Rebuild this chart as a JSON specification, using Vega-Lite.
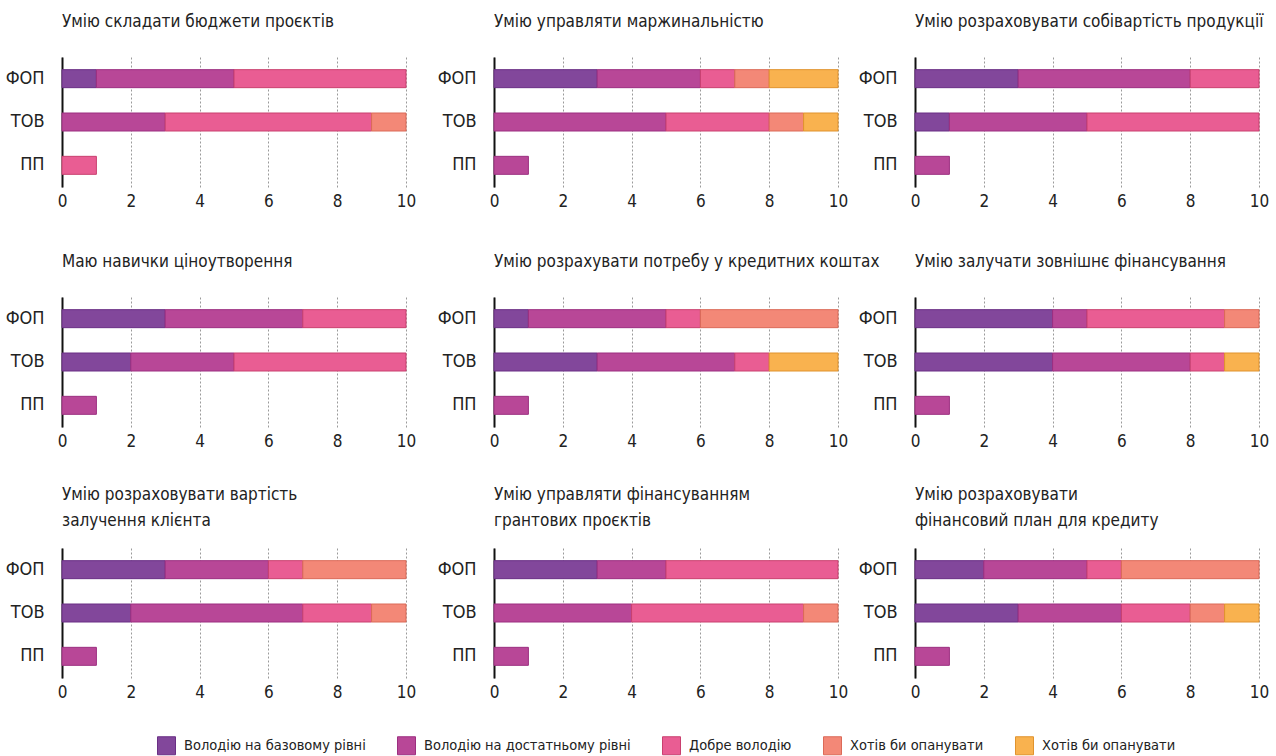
{
  "$schema": "https://vega.github.io/schema/vega-lite/v6.json",
  "padding": {"left": 4, "top": 13, "right": 0, "bottom": 0},
  "background": "white",
  "data": {"values": [
    {"p":1,"o":"ФОП","c":"Володію на базовому рівні","k":1,"v":1},
    {"p":1,"o":"ФОП","c":"Володію на достатньому рівні","k":2,"v":4},
    {"p":1,"o":"ФОП","c":"Добре володію","k":3,"v":5},
    {"p":1,"o":"ТОВ","c":"Володію на достатньому рівні","k":2,"v":3},
    {"p":1,"o":"ТОВ","c":"Добре володію","k":3,"v":6},
    {"p":1,"o":"ТОВ","c":"Хотів би опанувати","k":4,"v":1},
    {"p":1,"o":"ПП","c":"Добре володію","k":3,"v":1},

    {"p":2,"o":"ФОП","c":"Володію на базовому рівні","k":1,"v":3},
    {"p":2,"o":"ФОП","c":"Володію на достатньому рівні","k":2,"v":3},
    {"p":2,"o":"ФОП","c":"Добре володію","k":3,"v":1},
    {"p":2,"o":"ФОП","c":"Хотів би опанувати","k":4,"v":1},
    {"p":2,"o":"ФОП","c":"Хотів би опанувати ","k":5,"v":2},
    {"p":2,"o":"ТОВ","c":"Володію на достатньому рівні","k":2,"v":5},
    {"p":2,"o":"ТОВ","c":"Добре володію","k":3,"v":3},
    {"p":2,"o":"ТОВ","c":"Хотів би опанувати","k":4,"v":1},
    {"p":2,"o":"ТОВ","c":"Хотів би опанувати ","k":5,"v":1},
    {"p":2,"o":"ПП","c":"Володію на достатньому рівні","k":2,"v":1},

    {"p":3,"o":"ФОП","c":"Володію на базовому рівні","k":1,"v":3},
    {"p":3,"o":"ФОП","c":"Володію на достатньому рівні","k":2,"v":5},
    {"p":3,"o":"ФОП","c":"Добре володію","k":3,"v":2},
    {"p":3,"o":"ТОВ","c":"Володію на базовому рівні","k":1,"v":1},
    {"p":3,"o":"ТОВ","c":"Володію на достатньому рівні","k":2,"v":4},
    {"p":3,"o":"ТОВ","c":"Добре володію","k":3,"v":5},
    {"p":3,"o":"ПП","c":"Володію на достатньому рівні","k":2,"v":1},

    {"p":4,"o":"ФОП","c":"Володію на базовому рівні","k":1,"v":3},
    {"p":4,"o":"ФОП","c":"Володію на достатньому рівні","k":2,"v":4},
    {"p":4,"o":"ФОП","c":"Добре володію","k":3,"v":3},
    {"p":4,"o":"ТОВ","c":"Володію на базовому рівні","k":1,"v":2},
    {"p":4,"o":"ТОВ","c":"Володію на достатньому рівні","k":2,"v":3},
    {"p":4,"o":"ТОВ","c":"Добре володію","k":3,"v":5},
    {"p":4,"o":"ПП","c":"Володію на достатньому рівні","k":2,"v":1},

    {"p":5,"o":"ФОП","c":"Володію на базовому рівні","k":1,"v":1},
    {"p":5,"o":"ФОП","c":"Володію на достатньому рівні","k":2,"v":4},
    {"p":5,"o":"ФОП","c":"Добре володію","k":3,"v":1},
    {"p":5,"o":"ФОП","c":"Хотів би опанувати","k":4,"v":4},
    {"p":5,"o":"ТОВ","c":"Володію на базовому рівні","k":1,"v":3},
    {"p":5,"o":"ТОВ","c":"Володію на достатньому рівні","k":2,"v":4},
    {"p":5,"o":"ТОВ","c":"Добре володію","k":3,"v":1},
    {"p":5,"o":"ТОВ","c":"Хотів би опанувати ","k":5,"v":2},
    {"p":5,"o":"ПП","c":"Володію на достатньому рівні","k":2,"v":1},

    {"p":6,"o":"ФОП","c":"Володію на базовому рівні","k":1,"v":4},
    {"p":6,"o":"ФОП","c":"Володію на достатньому рівні","k":2,"v":1},
    {"p":6,"o":"ФОП","c":"Добре володію","k":3,"v":4},
    {"p":6,"o":"ФОП","c":"Хотів би опанувати","k":4,"v":1},
    {"p":6,"o":"ТОВ","c":"Володію на базовому рівні","k":1,"v":4},
    {"p":6,"o":"ТОВ","c":"Володію на достатньому рівні","k":2,"v":4},
    {"p":6,"o":"ТОВ","c":"Добре володію","k":3,"v":1},
    {"p":6,"o":"ТОВ","c":"Хотів би опанувати ","k":5,"v":1},
    {"p":6,"o":"ПП","c":"Володію на достатньому рівні","k":2,"v":1},

    {"p":7,"o":"ФОП","c":"Володію на базовому рівні","k":1,"v":3},
    {"p":7,"o":"ФОП","c":"Володію на достатньому рівні","k":2,"v":3},
    {"p":7,"o":"ФОП","c":"Добре володію","k":3,"v":1},
    {"p":7,"o":"ФОП","c":"Хотів би опанувати","k":4,"v":3},
    {"p":7,"o":"ТОВ","c":"Володію на базовому рівні","k":1,"v":2},
    {"p":7,"o":"ТОВ","c":"Володію на достатньому рівні","k":2,"v":5},
    {"p":7,"o":"ТОВ","c":"Добре володію","k":3,"v":2},
    {"p":7,"o":"ТОВ","c":"Хотів би опанувати","k":4,"v":1},
    {"p":7,"o":"ПП","c":"Володію на достатньому рівні","k":2,"v":1},

    {"p":8,"o":"ФОП","c":"Володію на базовому рівні","k":1,"v":3},
    {"p":8,"o":"ФОП","c":"Володію на достатньому рівні","k":2,"v":2},
    {"p":8,"o":"ФОП","c":"Добре володію","k":3,"v":5},
    {"p":8,"o":"ТОВ","c":"Володію на достатньому рівні","k":2,"v":4},
    {"p":8,"o":"ТОВ","c":"Добре володію","k":3,"v":5},
    {"p":8,"o":"ТОВ","c":"Хотів би опанувати","k":4,"v":1},
    {"p":8,"o":"ПП","c":"Володію на достатньому рівні","k":2,"v":1},

    {"p":9,"o":"ФОП","c":"Володію на базовому рівні","k":1,"v":2},
    {"p":9,"o":"ФОП","c":"Володію на достатньому рівні","k":2,"v":3},
    {"p":9,"o":"ФОП","c":"Добре володію","k":3,"v":1},
    {"p":9,"o":"ФОП","c":"Хотів би опанувати","k":4,"v":4},
    {"p":9,"o":"ТОВ","c":"Володію на базовому рівні","k":1,"v":3},
    {"p":9,"o":"ТОВ","c":"Володію на достатньому рівні","k":2,"v":3},
    {"p":9,"o":"ТОВ","c":"Добре володію","k":3,"v":2},
    {"p":9,"o":"ТОВ","c":"Хотів би опанувати","k":4,"v":1},
    {"p":9,"o":"ТОВ","c":"Хотів би опанувати ","k":5,"v":1},
    {"p":9,"o":"ПП","c":"Володію на достатньому рівні","k":2,"v":1}
  ]},
  "config": {
    "font": "DejaVu Sans Condensed, sans-serif",
    "view": {"stroke": null},
    "title": {"anchor": "start", "frame": "group", "fontSize": 17, "fontWeight": "normal", "color": "#222222", "offset": 26, "lineHeight": 26},
    "axisX": {"grid": true, "gridDash": [2, 2], "gridColor": "#9a9a9a", "gridWidth": 1, "domain": false, "ticks": false, "labelFontSize": 17, "labelPadding": 6, "labelFlush": false, "labelColor": "#222222", "title": null},
    "axisY": {"grid": false, "domain": true, "domainColor": "#111111", "domainWidth": 2, "ticks": false, "labelFontSize": 18, "labelPadding": 18, "labelColor": "#222222", "title": null},
    "legend": {"orient": "none", "legendX": 95, "legendY": 679, "direction": "horizontal", "title": null, "symbolType": "square", "symbolSize": 324, "labelFontSize": 14.5, "labelOffset": 8, "columnPadding": 29, "labelColor": "#222222", "symbolStrokeWidth": 1, "labelLimit": 400},
    "bar": {"size": 18, "strokeWidth": 1}
  },
  "hconcat": [
    {"spacing": 37, "vconcat": [
      {"width": 344, "height": 130, "title": "Умію складати бюджети проєктів", "transform": [{"filter": "datum.p == 1"}], "mark": {"type": "bar"},
       "encoding": {
        "y": {"field": "o", "type": "nominal", "scale": {"domain": ["ФОП","ТОВ","ПП"], "paddingInner": 0, "paddingOuter": 0}, "axis": {"minExtent": 58}},
        "x": {"field": "v", "type": "quantitative", "stack": "zero", "scale": {"domain": [0, 10], "nice": false}, "axis": {"values": [0,2,4,6,8,10], "minExtent": 29}},
        "color": {"field": "c", "type": "nominal", "scale": {"domain": ["Володію на базовому рівні","Володію на достатньому рівні","Добре володію","Хотів би опанувати","Хотів би опанувати "], "range": ["#82479b","#b84797","#e95d93","#f38877","#f9b24f"]}},
        "stroke": {"field": "c", "type": "nominal", "scale": {"domain": ["Володію на базовому рівні","Володію на достатньому рівні","Добре володію","Хотів би опанувати","Хотів би опанувати "], "range": ["#6a2f85","#9c2f80","#c9406f","#db6a58","#e0932e"]}},
        "order": {"field": "k", "type": "quantitative"}
       }},
      {"width": 344, "height": 130, "title": "Маю навички ціноутворення", "transform": [{"filter": "datum.p == 4"}], "mark": {"type": "bar"},
       "encoding": {
        "y": {"field": "o", "type": "nominal", "scale": {"domain": ["ФОП","ТОВ","ПП"], "paddingInner": 0, "paddingOuter": 0}, "axis": {"minExtent": 58}},
        "x": {"field": "v", "type": "quantitative", "stack": "zero", "scale": {"domain": [0, 10], "nice": false}, "axis": {"values": [0,2,4,6,8,10]}},
        "color": {"field": "c", "type": "nominal"},
        "stroke": {"field": "c", "type": "nominal"},
        "order": {"field": "k", "type": "quantitative"}
       }},
      {"width": 344, "height": 130, "title": {"text": ["Умію розраховувати вартість", "залучення клієнта"], "offset": 18}, "transform": [{"filter": "datum.p == 7"}], "mark": {"type": "bar"},
       "encoding": {
        "y": {"field": "o", "type": "nominal", "scale": {"domain": ["ФОП","ТОВ","ПП"], "paddingInner": 0, "paddingOuter": 0}, "axis": {"minExtent": 58}},
        "x": {"field": "v", "type": "quantitative", "stack": "zero", "scale": {"domain": [0, 10], "nice": false}, "axis": {"values": [0,2,4,6,8,10]}},
        "color": {"field": "c", "type": "nominal"},
        "stroke": {"field": "c", "type": "nominal"},
        "order": {"field": "k", "type": "quantitative"}
       }}
    ]},
    {"spacing": 37, "vconcat": [
      {"width": 344, "height": 130, "title": "Умію управляти  маржинальністю", "transform": [{"filter": "datum.p == 2"}], "mark": {"type": "bar"},
       "encoding": {
        "y": {"field": "o", "type": "nominal", "scale": {"domain": ["ФОП","ТОВ","ПП"], "paddingInner": 0, "paddingOuter": 0}, "axis": {"minExtent": 101}},
        "x": {"field": "v", "type": "quantitative", "stack": "zero", "scale": {"domain": [0, 10], "nice": false}, "axis": {"values": [0,2,4,6,8,10], "minExtent": 29}},
        "color": {"field": "c", "type": "nominal"},
        "stroke": {"field": "c", "type": "nominal"},
        "order": {"field": "k", "type": "quantitative"}
       }},
      {"width": 344, "height": 130, "title": "Умію розрахувати потребу у кредитних коштах", "transform": [{"filter": "datum.p == 5"}], "mark": {"type": "bar"},
       "encoding": {
        "y": {"field": "o", "type": "nominal", "scale": {"domain": ["ФОП","ТОВ","ПП"], "paddingInner": 0, "paddingOuter": 0}, "axis": {"minExtent": 101}},
        "x": {"field": "v", "type": "quantitative", "stack": "zero", "scale": {"domain": [0, 10], "nice": false}, "axis": {"values": [0,2,4,6,8,10]}},
        "color": {"field": "c", "type": "nominal"},
        "stroke": {"field": "c", "type": "nominal"},
        "order": {"field": "k", "type": "quantitative"}
       }},
      {"width": 344, "height": 130, "title": {"text": ["Умію управляти фінансуванням", "грантових проєктів"], "offset": 18}, "transform": [{"filter": "datum.p == 8"}], "mark": {"type": "bar"},
       "encoding": {
        "y": {"field": "o", "type": "nominal", "scale": {"domain": ["ФОП","ТОВ","ПП"], "paddingInner": 0, "paddingOuter": 0}, "axis": {"minExtent": 101}},
        "x": {"field": "v", "type": "quantitative", "stack": "zero", "scale": {"domain": [0, 10], "nice": false}, "axis": {"values": [0,2,4,6,8,10]}},
        "color": {"field": "c", "type": "nominal"},
        "stroke": {"field": "c", "type": "nominal"},
        "order": {"field": "k", "type": "quantitative"}
       }}
    ]},
    {"spacing": 37, "vconcat": [
      {"width": 344, "height": 130, "title": "Умію розраховувати собівартість продукції", "transform": [{"filter": "datum.p == 3"}], "mark": {"type": "bar"},
       "encoding": {
        "y": {"field": "o", "type": "nominal", "scale": {"domain": ["ФОП","ТОВ","ПП"], "paddingInner": 0, "paddingOuter": 0}, "axis": {"minExtent": 58}},
        "x": {"field": "v", "type": "quantitative", "stack": "zero", "scale": {"domain": [0, 10], "nice": false}, "axis": {"values": [0,2,4,6,8,10], "minExtent": 29}},
        "color": {"field": "c", "type": "nominal"},
        "stroke": {"field": "c", "type": "nominal"},
        "order": {"field": "k", "type": "quantitative"}
       }},
      {"width": 344, "height": 130, "title": "Умію залучати зовнішнє фінансування", "transform": [{"filter": "datum.p == 6"}], "mark": {"type": "bar"},
       "encoding": {
        "y": {"field": "o", "type": "nominal", "scale": {"domain": ["ФОП","ТОВ","ПП"], "paddingInner": 0, "paddingOuter": 0}, "axis": {"minExtent": 58}},
        "x": {"field": "v", "type": "quantitative", "stack": "zero", "scale": {"domain": [0, 10], "nice": false}, "axis": {"values": [0,2,4,6,8,10]}},
        "color": {"field": "c", "type": "nominal"},
        "stroke": {"field": "c", "type": "nominal"},
        "order": {"field": "k", "type": "quantitative"}
       }},
      {"width": 344, "height": 130, "title": {"text": ["Умію розраховувати", "фінансовий план для кредиту"], "offset": 18}, "transform": [{"filter": "datum.p == 9"}], "mark": {"type": "bar"},
       "encoding": {
        "y": {"field": "o", "type": "nominal", "scale": {"domain": ["ФОП","ТОВ","ПП"], "paddingInner": 0, "paddingOuter": 0}, "axis": {"minExtent": 58}},
        "x": {"field": "v", "type": "quantitative", "stack": "zero", "scale": {"domain": [0, 10], "nice": false}, "axis": {"values": [0,2,4,6,8,10]}},
        "color": {"field": "c", "type": "nominal"},
        "stroke": {"field": "c", "type": "nominal"},
        "order": {"field": "k", "type": "quantitative"}
       }}
    ]}
  ],
  "spacing": -23
}
